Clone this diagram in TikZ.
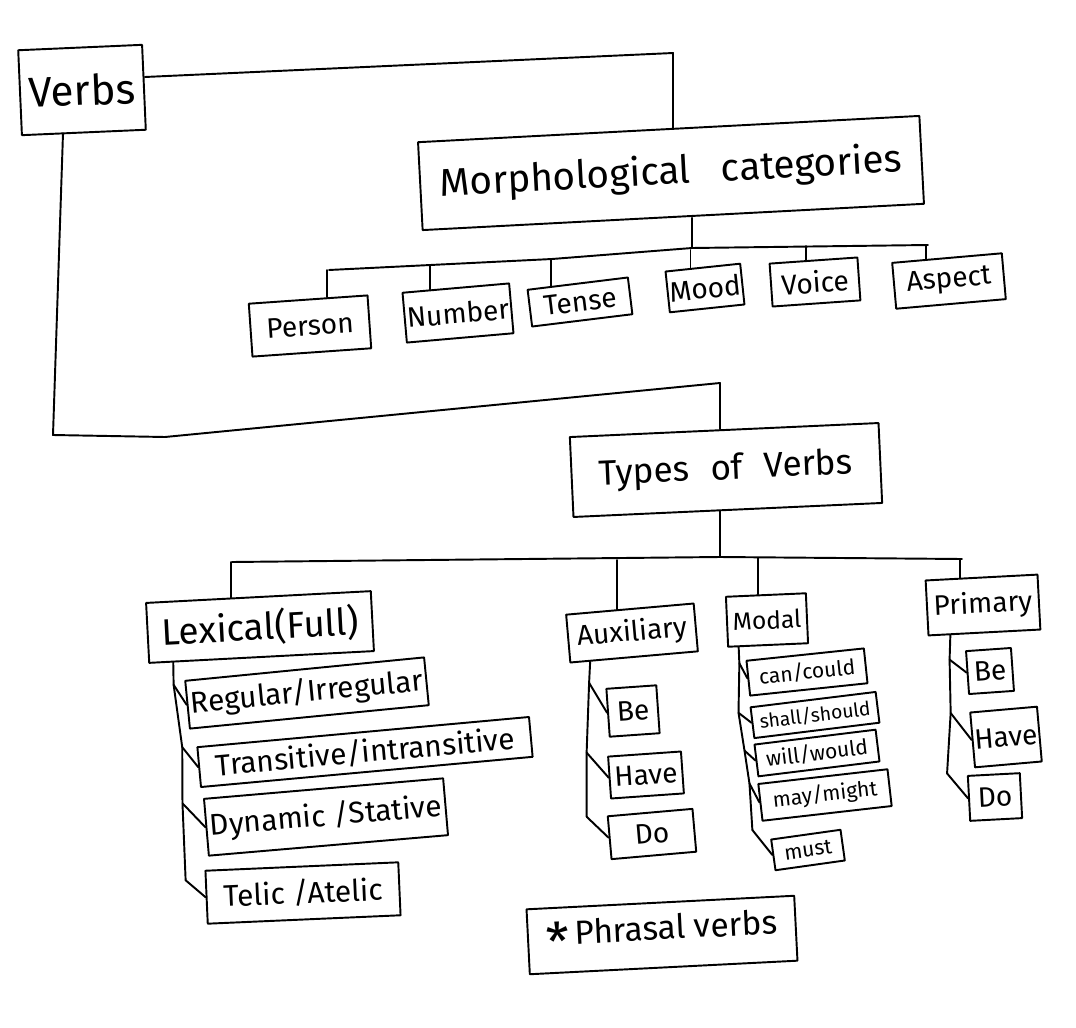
\documentclass[tikz,border=0pt]{standalone}
\usepackage{fontspec}
\setmainfont{Fira Sans}
\usetikzlibrary{calc}

\tikzset{
	card/.style={draw, line width=1.1pt, line join=round, inner sep=1pt, align=center},
	wh/.style 2 args={minimum width=#1*0.02cm, minimum height=#2*0.02cm},
	fs/.style={font=\fontsize{#1}{#1}\selectfont},
	link/.style={line width=1.1pt, line join=round, line cap=round},
}

\begin{document}
\begin{tikzpicture}[x=0.02cm, y=-0.02cm]

% canvas %{{{2

	\fill[white] (0,0) rectangle (1076,1028);
	\useasboundingbox (0,0) rectangle (1076,1028);

% main boxes %{{{2

	\node[card, wh={124}{85}, fs=24, rotate=2.5] (Verbs) at (82,90) {Verbs};
	\node[card, wh={502}{88}, fs=22, rotate=3] (Morph) at (671,173) {Morphological\hspace{0.8em}categories};
	\node[card, wh={309}{80}, fs=20, rotate=2.6] (Types) at (726,470) {Types\hspace{0.6em}of\hspace{0.6em}Verbs};

% categories %{{{2

	\foreach \n/\cx/\cy/\bw/\bh/\rot in {Person/310/326/119/53/4, Number/458/313/107/50/5,
		Tense/580/302/101/37/7, Mood/705/288/74/41/6, Voice/815/282/88/43/4, Aspect/949/281/110/46/5}
		\node[card, wh={\bw}{\bh}, fs=16, rotate=\rot] (\n) at (\cx,\cy) {\n};

% types %{{{2

	\node[card, wh={225}{60}, fs=21, rotate=3] (Lexical) at (260,627) {Lexical(Full)};
	\node[card, wh={128}{48}, fs=16, rotate=5] (Aux) at (632,633) {Auxiliary};
	\node[card, wh={80}{50}, fs=14, rotate=2.5] (Modal) at (767,620) {Modal};
	\node[card, wh={112}{55}, fs=16, rotate=3] (Primary) at (983,605) {Primary};

% lexical items %{{{2

	\node[card, wh={240}{48}, fs=17, rotate=5.6] (Reg) at (307,693) {Regular/Irregular};
	\node[card, wh={333}{40}, fs=17, rotate=5.2] (Trans) at (365,752) {Transitive/intransitive};
	\node[card, wh={240}{57}, fs=17, rotate=4.9] (Dyn) at (326,817) {Dynamic /Stative};
	\node[card, wh={193}{53}, fs=17, rotate=2.5] (Tel) at (303,893) {Telic /Atelic};

% auxiliary items %{{{2

	\node[card, wh={50}{48}, fs=16, rotate=4] (AuxBe) at (633,711) {Be};
	\node[card, wh={73}{42}, fs=16, rotate=4] (AuxHave) at (646,775) {Have};
	\node[card, wh={85}{43}, fs=16, rotate=5] (AuxDo) at (652,834) {Do};

% modal items %{{{2

	\node[card, wh={118}{35}, fs=12, rotate=6] (Can) at (807,672) {can/could};
	\node[card, wh={126}{31}, fs=11, rotate=7] (Shall) at (815,715) {shall/should};
	\node[card, wh={122}{32}, fs=12, rotate=7] (Will) at (817,753) {will/would};
	\node[card, wh={130}{37}, fs=12, rotate=6.5] (May) at (825,795) {may/might};
	\node[card, wh={70}{31}, fs=12, rotate=8] (Must) at (808,850) {must};

% primary items %{{{2

	\node[card, wh={45}{43}, fs=16, rotate=4] (PrimBe) at (990,671) {Be};
	\node[card, wh={67}{55}, fs=16, rotate=5] (PrimHave) at (1006,737) {Have};
	\node[card, wh={52}{45}, fs=16, rotate=3] (PrimDo) at (995,797) {Do};

% phrasal verbs %{{{2

	\node[card, wh={268}{65}, fs=19, rotate=2.9] (Phrasal) at (662,935)
		{\raisebox{-9pt}{\fontsize{30}{30}\selectfont *}\,Phrasal verbs};

% verbs links %{{{2

	\coordinate (vm) at (673,53);
	\draw[link] (Verbs.east |- 0,77) -- (vm) -- (vm |- Morph.north);

	\coordinate (vt1) at (53,435);
	\coordinate (vt2) at (165,437);
	\coordinate (vt3) at (720,383);
	\draw[link] (Verbs.south -| 63,0) -- (vt1) -- (vt2) -- (vt3) -- (vt3 |- Types.north);

% categories bus %{{{2

	\coordinate (mb) at (692,248);
	\draw[link] (mb |- Morph.south) -- (mb);
	\draw[link] (329,270) -- (552,259) -- (mb) -- (928,245);

	\foreach \n/\f/\by in {Person/0.66/270, Number/0.26/265, Tense/0.24/259,
		Mood/0.34/250, Voice/0.42/246, Aspect/0.31/245} {
		\coordinate (top) at ($(\n.north west)!\f!(\n.north east)$);
		\draw[link] (top |- 0,\by) -- (top);
	}

% types bus %{{{2

	\coordinate (tb) at (720,557);
	\draw[link] (tb |- Types.south) -- (tb);
	\draw[link] (232,562) -- (tb) -- (962,559);

	\foreach \n/\f/\by in {Lexical/0.38/562, Aux/0.40/560, Modal/0.40/558, Primary/0.31/559} {
		\coordinate (top) at ($(\n.north west)!\f!(\n.north east)$);
		\draw[link] (top |- 0,\by) -- (top);
	}

% lexical spine %{{{2

	\coordinate (l0) at ($(Lexical.south west)!0.11!(Lexical.south east)$);
	\foreach \n/\ox/\oy [count=\i] in {Reg/-13/-20, Trans/-16/-20, Dyn/-23/-24, Tel/-20/-17} {
		\coordinate (l\i) at ($(\n.west)+(\ox,\oy)$);
		\draw[link] (l\i) -- (\n.west);
	}
	\draw[link] (l0) -- (l1) -- (l2) -- (l3) -- (l4);

% auxiliary spine %{{{2

	\coordinate (a0) at ($(Aux.south west)!0.16!(Aux.south east)$);
	\foreach \n/\ox/\oy [count=\i] in {AuxBe/-18/-30, AuxHave/-22/-25, AuxDo/-22/-21} {
		\coordinate (a\i) at ($(\n.west)+(\ox,\oy)$);
		\draw[link] (a\i) -- (\n.west);
	}
	\draw[link] (a0) -- (a1) -- (a2) -- (a3);

% modal spine %{{{2

	\coordinate (m0) at ($(Modal.south west)!0.14!(Modal.south east)$);
	\foreach \n/\ox/\oy [count=\i] in {Can/-8/-15, Shall/-13/-10, Will/-11/-10, May/-10/-19, Must/-20/-25} {
		\coordinate (m\i) at ($(\n.west)+(\ox,\oy)$);
		\draw[link] (m\i) -- (\n.west);
	}
	\draw[link] (m0) -- (m1) -- (m2) -- (m3) -- (m4) -- (m5);

% primary spine %{{{2

	\coordinate (p0) at ($(Primary.south west)!0.2!(Primary.south east)$);
	\foreach \n/\ox/\oy [count=\i] in {PrimBe/-17/-13, PrimHave/-21/-27, PrimDo/-21/-25} {
		\coordinate (p\i) at ($(\n.west)+(\ox,\oy)$);
		\draw[link] (p\i) -- (\n.west);
	}
	\draw[link] (p0) -- (p1) -- (p2) -- (p3);

% closing %{{{2

\end{tikzpicture}
\end{document}
